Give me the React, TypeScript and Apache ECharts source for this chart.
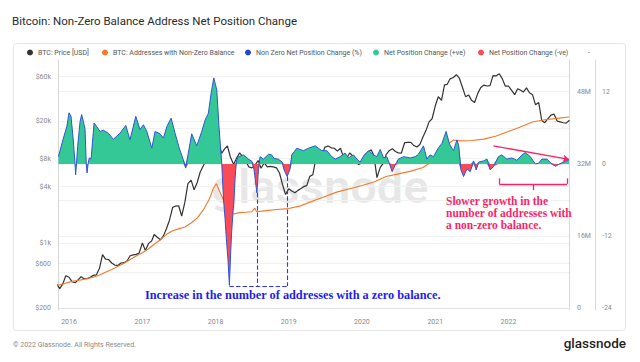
import React, { useEffect, useRef } from 'react';
import * as echarts from 'echarts';

const TITLE = 'Bitcoin: Non-Zero Balance Address Net Position Change';
const legendNames = [
  'BTC: Price [USD]',
  'BTC: Addresses with Non-Zero Balance',
  'Non Zero Net Position Change (%)',
  'Net Position Change (+ve)',
  'Net Position Change (-ve)',
];
const legendDotX = [31, 106, 249, 377, 482];

// BTC price, semi-monthly (1st and 16th) starting 2015-11-01
const priceUSD = [
  360, 325, 365, 445,
  430, 385, 375, 405, 435, 415, 415, 430, 450, 455, 535, 750, 670, 665, 610, 580, 575, 610, 615, 640, 730, 745, 755, 780,
  1000, 830, 990, 1050, 1230, 1150, 1080, 1190, 1420, 1750, 2400, 2480, 2500, 1940, 2730, 4300, 4700, 3700, 4400, 5700, 6700, 7800, 10900, 19000,
  13400, 11300, 9100, 10200, 10900, 8300, 6900, 8100, 9200, 8400, 7500, 6500, 6350, 6750, 7600, 6300, 7200, 6500, 6600, 6500, 6350, 5600, 4200, 3300,
  3800, 3600, 3450, 3650, 3800, 4000, 4100, 5150, 5350, 7900, 8550, 8900, 10600, 10900, 10400, 10300, 9600, 10300, 8300, 8000, 9150, 8500, 7400, 6900,
  7200, 8800, 9400, 9900, 8600, 5000, 6400, 7100, 8800, 9700, 10200, 9500, 9200, 9150, 11800, 11900, 11900, 11000, 10600, 11300, 13700, 16000, 19700, 21300,
  29300, 36600, 33500, 49100, 49600, 56900, 58800, 63000, 57800, 46500, 36700, 38300, 33500, 31800, 39800, 46000, 48800, 47700, 48200, 61500, 61300, 64500, 57200, 47600,
  47700, 43100, 38500, 44500, 43200, 41100, 45500, 40400, 38500, 30000, 31700, 20400, 19300, 21200, 23300, 23900, 20100, 19700, 19300, 19100, 20500,
];

// Addresses with non-zero balance (millions)
const addrDates = [
  '2015-11-01', '2015-12-01', '2016-01-01', '2016-02-01', '2016-03-01', '2016-04-01', '2016-05-01', '2016-06-01',
  '2016-07-01', '2016-08-01', '2016-09-01', '2016-10-01', '2016-11-01', '2016-12-01', '2017-01-01', '2017-02-01',
  '2017-03-01', '2017-04-01', '2017-05-01', '2017-06-01', '2017-07-01', '2017-08-01', '2017-09-01', '2017-10-01',
  '2017-11-01', '2017-12-01', '2017-12-20', '2018-01-05', '2018-01-20', '2018-02-05', '2018-02-20', '2018-03-10',
  '2018-04-01', '2018-05-01', '2018-06-01', '2018-07-01', '2018-07-15', '2018-07-25', '2018-09-01', '2018-11-01',
  '2019-01-01', '2019-03-01', '2019-05-01', '2019-07-01', '2019-09-01', '2019-11-01', '2020-01-01', '2020-03-01',
  '2020-05-01', '2020-07-01', '2020-09-01', '2020-11-01', '2021-01-01', '2021-02-01', '2021-03-01', '2021-04-01',
  '2021-05-01', '2021-07-01', '2021-09-01', '2021-11-01', '2022-01-01', '2022-03-01', '2022-05-01', '2022-07-01',
  '2022-09-01', '2022-10-30',
];
const addrMillions = [
  5.0, 5.4, 5.8, 6.1, 6.3, 6.6, 6.9, 7.4,
  8.0, 8.6, 9.3, 10.0, 10.8, 11.6, 12.3, 13.2,
  14.2, 15.2, 16.4, 17.2, 17.6, 18.0, 18.9, 20.0,
  21.8, 24.2, 26.5, 27.6, 26.0, 24.5, 22.4, 21.0,
  20.9, 21.2, 21.3, 21.4, 22.2, 21.4, 21.6, 21.9,
  22.1, 22.7, 23.8, 24.8, 25.8, 26.5, 27.2, 28.0,
  29.2, 29.8, 30.4, 31.2, 33.0, 34.8, 36.2, 37.3,
  37.1, 37.2, 37.5, 38.2, 39.2, 40.2, 41.3, 41.8,
  42.1, 42.4,
];

// Non-zero net position change (%)
const npcDates = [
  '2015-11-09', '2015-12-04', '2015-12-21', '2016-01-01', '2016-01-11', '2016-01-22', '2016-01-31', '2016-02-03', '2016-02-07', '2016-02-13',
  '2016-02-25', '2016-03-04', '2016-03-13', '2016-03-21', '2016-03-27', '2016-03-31', '2016-04-05', '2016-04-11', '2016-04-20', '2016-05-05',
  '2016-05-18', '2016-06-04', '2016-06-20', '2016-07-15', '2016-08-09', '2016-09-11', '2016-10-10', '2016-10-31', '2016-11-29', '2016-12-20',
  '2017-01-06', '2017-01-23', '2017-02-17', '2017-03-05', '2017-03-30', '2017-04-16', '2017-05-03', '2017-05-24', '2017-06-13', '2017-07-04',
  '2017-07-24', '2017-08-05', '2017-08-18', '2017-09-04', '2017-09-29', '2017-10-24', '2017-11-10', '2017-11-26', '2017-12-10', '2017-12-23',
  '2018-01-07', '2018-01-18', '2018-02-01', '2018-02-05', '2018-02-10', '2018-02-17', '2018-02-25', '2018-03-04', '2018-03-11', '2018-03-17',
  '2018-03-22', '2018-03-29', '2018-04-03', '2018-04-08', '2018-04-15', '2018-04-25', '2018-05-20', '2018-06-14', '2018-07-02', '2018-07-12',
  '2018-07-26', '2018-08-03', '2018-08-11', '2018-08-28', '2018-09-22', '2018-10-08', '2018-10-20', '2018-11-10', '2018-11-29', '2018-12-09',
  '2018-12-24', '2019-01-08', '2019-01-16', '2019-02-10', '2019-03-15', '2019-04-09', '2019-05-13', '2019-05-29', '2019-06-15', '2019-07-10',
  '2019-08-04', '2019-08-21', '2019-09-14', '2019-10-09', '2019-10-26', '2019-11-20', '2019-12-07', '2019-12-23', '2020-01-09', '2020-02-03',
  '2020-02-28', '2020-03-15', '2020-04-01', '2020-04-18', '2020-05-04', '2020-05-16', '2020-05-31', '2020-06-15', '2020-07-01', '2020-07-26',
  '2020-08-29', '2020-09-23', '2020-10-09', '2020-11-03', '2020-11-20', '2020-12-06', '2020-12-23', '2021-01-17', '2021-02-03', '2021-02-24',
  '2021-03-13', '2021-03-25', '2021-04-02', '2021-04-19', '2021-04-28', '2021-05-09', '2021-05-22', '2021-06-08', '2021-06-24', '2021-07-11',
  '2021-07-24', '2021-08-05', '2021-08-30', '2021-09-16', '2021-10-02', '2021-10-19', '2021-11-12', '2021-11-29', '2021-12-24', '2022-01-18',
  '2022-02-12', '2022-03-10', '2022-03-26', '2022-04-20', '2022-05-15', '2022-05-31', '2022-06-17', '2022-07-12', '2022-07-29', '2022-08-23',
  '2022-09-08', '2022-10-03', '2022-10-30',
];
const npcPercent = [
  1.2, 4.3, 6.2, 8.5, 7.9, 4.0, 0, -1.8, 0, 2.9,
  7.0, 8.2, 7.0, 5.7, 0, -1.5, 0, 1.0, 0.8, 6.8,
  6.2, 5.4, 5.6, 5.1, 4.1, 5.1, 6.4, 4.0, 7.9, 5.7,
  6.5, 5.4, 2.6, 5.4, 5.0, 4.3, 6.2, 7.6, 5.1, 2.6,
  0.7, -0.7, 1.8, 5.0, 3.0, 5.4, 7.3, 8.4, 11.8, 14.3,
  12.3, 6.2, 0, -3, -6, -9, -13, -16, -20.2, -15,
  -11.5, -8, -6, -2.5, 0.5, 1.2, 1.5, 0.8, 0.4, -1.0,
  -4.8, -1.0, 1.2, 0.8, 1.6, 1.5, 0.9, 0.8, 0.3, -1.0,
  -2.1, -0.8, 1.5, 2.6, 2.2, 2.6, 3.0, 2.6, 2.2, 2.2,
  1.2, 0.8, 1.2, 1.8, 1.0, 1.5, 0.8, 0.3, 1.3, 2.2,
  1.5, 1.2, 2.4, 1.0, 1.2, 0.2, -1.3, -0.2, 0.8, 1.2,
  1.0, 1.2, 1.6, 3.0, 0.8, 1.5, 1.2, 2.7, 3.4, 5.4,
  3.3, 2.6, 2.2, 4.0, 3.0, -1.0, -2.1, -0.8, -1.3, 0.5,
  -1.0, 0.3, 0.5, 0.8, -1.0, -0.4, 1.2, 1.5, 0.8, 1.0,
  0.6, 1.5, 1.9, 1.2, 0.0, 0.1, 0.8, 0.8, 0.2, -0.4,
  -0.1, 0.3, 0.7,
];

// Axis ticks
const priceTicks = [200, 600, 1000, 4000, 8000, 20000, 60000];
const priceTickLabels = ['$200', '$600', '$1k', '$4k', '$8k', '$20k', '$60k'];
const addrTicks = [0, 16, 32, 48];
const addrGridTicks = [0, 8, 16, 24, 32, 40, 48];
const pctTicks = [-24, -12, 0, 12];
const yearTicks = [2016, 2017, 2018, 2019, 2020, 2021, 2022];

// Annotation anchors (data coordinates)
const zeroAnnoDates = ['2018-03-11', '2018-07-29', '2018-12-25'];
const zeroAnnoBase = -20.3;
const zeroAnnoTops = [-4.8, -2.1];
const slowArrowDates = ['2021-10-18', '2022-10-30'];
const slowArrowVals = [3.0, 0.75];
const slowBracketDates = ['2021-11-16', '2022-05-03', '2022-10-20'];
const slowBracketVals = [-3.33, -2.4, -4.35];

function ts(s: string) {
  const [y, m, d] = s.split('-').map(Number);
  return new Date(y, m - 1, d).getTime();
}
function priceDate(i: number) {
  const mi = 10 + Math.floor(i / 2);
  return new Date(2015 + Math.floor(mi / 12), mi % 12, i % 2 ? 16 : 1).getTime();
}

export default function App() {
  const ref = useRef<HTMLDivElement>(null);
  useEffect(() => {
    if (!ref.current) return;
    const chart = echarts.init(ref.current, null, { renderer: 'svg' });
    const n = Math.min(npcDates.length, npcPercent.length);
    const npc = npcDates.slice(0, n).map((d, i) => [ts(d), npcPercent[i]]);
    const pos = npc.map(([t, v]) => [t, Math.max(v as number, 0)]);
    const neg = npc.map(([t, v]) => [t, Math.min(v as number, 0)]);
    const price = priceUSD.map((v, i) => [priceDate(i), Math.log10(v)]);
    const addr = addrDates.map((d, i) => [ts(d), addrMillions[i]]);
    const logTicks = priceTicks.map((v) => Math.log10(v));
    const yearTs = yearTicks.map((y) => new Date(y, 0, 1).getTime());

    const blueDash = { color: '#2a36ff', type: 'dashed', width: 1.1, opacity: 1 };
    const pink = { color: '#ff1f68', width: 1.3, type: 'solid', opacity: 1 };
    const fontFamily = 'Roboto';
    const seg = (a: number[], b: number[], style: any, endSymbol?: string) => [
      { coord: a, lineStyle: style, itemStyle: { color: style.color } },
      endSymbol
        ? { coord: b, lineStyle: style, itemStyle: { color: style.color }, symbol: endSymbol, symbolSize: 6 }
        : { coord: b, lineStyle: style, itemStyle: { color: style.color } },
    ];

    const option: any = {
      animation: false,
      backgroundColor: '#ffffff',
      textStyle: { fontFamily },
      title: {
        text: TITLE,
        left: 12,
        top: 15,
        padding: 0,
        textStyle: { fontSize: 11.5, fontWeight: 'normal', color: '#2b2b2b', fontFamily },
      },
      legend: legendNames.map((name, i) => ({
        data: [name],
        left: legendDotX[i] - 4,
        top: 49,
        padding: 0,
        itemWidth: 6,
        itemHeight: 6,
        icon: 'circle',
        selectedMode: false,
        textStyle: { fontSize: 7, color: '#555', fontFamily },
      })),
      grid: { left: 58, right: 71, top: 60, bottom: 52 },
      xAxis: {
        type: 'value',
        min: ts('2015-11-07'),
        max: ts('2022-10-30'),
        axisLine: { show: true, lineStyle: { color: '#e2e2e2' } },
        axisTick: { show: false, customValues: yearTs },
        splitLine: { show: false },
        axisLabel: {
          customValues: yearTs,
          formatter: (v: number) => String(new Date(v).getFullYear()),
          color: '#8a8a8a',
          fontSize: 7,
          fontFamily,
          margin: 8,
        },
      },
      yAxis: [
        {
          type: 'value',
          position: 'left',
          min: 2.2828,
          max: 4.9566,
          axisLine: { show: true, lineStyle: { color: '#d6d6d6' } },
          axisTick: { show: false, customValues: logTicks },
          splitLine: { show: true, lineStyle: { color: '#f1f1f1' } },
          axisLabel: {
            customValues: logTicks,
            formatter: (v: number) => {
              const i = logTicks.findIndex((t) => Math.abs(t - v) < 1e-6);
              return i >= 0 ? priceTickLabels[i] : '';
            },
            color: '#8a8a8a',
            fontSize: 7,
            fontFamily,
            margin: 7,
          },
        },
        {
          type: 'value',
          position: 'right',
          min: -0.377,
          max: 55.03,
          axisLine: { show: true, lineStyle: { color: '#f8cfb4' } },
          axisTick: { show: false, customValues: addrGridTicks },
          splitLine: { show: true, lineStyle: { color: '#f1f1f1' } },
          axisLabel: {
            customValues: addrTicks,
            formatter: (v: number) => (v === 0 ? '0' : v + 'M'),
            color: '#8a8a8a',
            fontSize: 7,
            fontFamily,
            margin: 8,
          },
        },
        {
          type: 'value',
          position: 'right',
          offset: 26,
          min: -24.283,
          max: 17.27,
          axisLine: { show: true, lineStyle: { color: '#bfe9da' } },
          axisTick: { show: false, customValues: pctTicks },
          splitLine: { show: false },
          axisLabel: {
            customValues: pctTicks,
            formatter: (v: number) => String(v),
            color: '#8a8a8a',
            fontSize: 7,
            fontFamily,
            margin: 7,
          },
        },
      ],
      series: [
        {
          name: legendNames[0],
          type: 'line',
          yAxisIndex: 0,
          data: price,
          showSymbol: false,
          color: '#333333',
          lineStyle: { width: 1.2, color: '#333333' },
          z: 2,
        },
        {
          name: legendNames[1],
          type: 'line',
          yAxisIndex: 1,
          data: addr,
          showSymbol: false,
          color: '#f3782a',
          lineStyle: { width: 1.1, color: '#f3782a' },
          z: 2,
        },
        {
          name: legendNames[3],
          type: 'line',
          yAxisIndex: 2,
          data: pos,
          showSymbol: false,
          color: '#34c896',
          lineStyle: { width: 0 },
          areaStyle: { color: '#34c896', opacity: 1 },
          z: 3,
        },
        {
          name: legendNames[4],
          type: 'line',
          yAxisIndex: 2,
          data: neg,
          showSymbol: false,
          color: '#fb4b57',
          lineStyle: { width: 0 },
          areaStyle: { color: '#fb4b57', opacity: 1 },
          z: 3,
        },
        {
          name: legendNames[2],
          type: 'line',
          yAxisIndex: 2,
          data: npc,
          showSymbol: false,
          color: '#2446d6',
          lineStyle: { width: 1, color: '#2f55d8' },
          z: 4,
          markLine: {
            silent: true,
            symbol: ['none', 'none'],
            label: { show: false },
            animation: false,
            data: [
              seg([ts(zeroAnnoDates[0]), zeroAnnoBase], [ts(zeroAnnoDates[2]), zeroAnnoBase], blueDash),
              seg([ts(zeroAnnoDates[1]), zeroAnnoTops[0]], [ts(zeroAnnoDates[1]), zeroAnnoBase], blueDash),
              seg([ts(zeroAnnoDates[2]), zeroAnnoTops[1]], [ts(zeroAnnoDates[2]), zeroAnnoBase], blueDash),
              seg([ts(slowArrowDates[0]), slowArrowVals[0]], [ts(slowArrowDates[1]), slowArrowVals[1]], pink, 'arrow'),
              seg([ts(slowBracketDates[0]), slowBracketVals[0]], [ts(slowBracketDates[2]), slowBracketVals[0]], pink),
              seg([ts(slowBracketDates[0]), slowBracketVals[1]], [ts(slowBracketDates[0]), slowBracketVals[0]], pink),
              seg([ts(slowBracketDates[2]), slowBracketVals[1]], [ts(slowBracketDates[2]), slowBracketVals[0]], pink),
              seg([ts(slowBracketDates[1]), slowBracketVals[0]], [ts(slowBracketDates[1]), slowBracketVals[2]], pink),
            ],
          },
        },
      ],
      graphic: [
        {
          type: 'rect',
          z: -10,
          silent: true,
          shape: { x: 13.5, y: 43.5, width: 612, height: 287, r: 3 },
          style: { fill: 'none', stroke: '#e6e6e6', lineWidth: 1 },
        },
        {
          type: 'text',
          z: 0,
          silent: true,
          style: {
            text: 'glassnode',
            x: 320,
            y: 186,
            align: 'center',
            verticalAlign: 'middle',
            fontSize: 47,
            fontWeight: 'bold',
            fontFamily,
            fill: 'rgba(0,0,0,0.09)',
          },
        },
        {
          type: 'text',
          style: { text: '-', x: 588, y: 53, verticalAlign: 'middle', fontSize: 7, fontFamily, fill: '#555' },
        },
        {
          type: 'text',
          z: 100,
          style: {
            text: 'Increase in the number of addresses with a zero balance.',
            x: 145,
            y: 295,
            verticalAlign: 'middle',
            fontSize: 12.3,
            fontWeight: 'bold',
            fontFamily: 'Liberation Serif',
            fill: '#1d1df2',
          },
        },
        {
          type: 'text',
          z: 100,
          style: {
            text: 'Slower growth in the\nnumber of addresses with\na non-zero balance.',
            x: 446,
            y: 195,
            fontSize: 11.5,
            lineHeight: 11.8,
            fontWeight: 'bold',
            fontFamily: 'Liberation Serif',
            fill: '#ff1f68',
          },
        },
        {
          type: 'text',
          style: {
            text: '© 2022 Glassnode. All Rights Reserved.',
            x: 13,
            y: 345,
            verticalAlign: 'middle',
            fontSize: 7,
            fontFamily,
            fill: '#8a8a8a',
          },
        },
        {
          type: 'text',
          style: {
            text: 'glassnode',
            x: 626,
            y: 343,
            align: 'right',
            verticalAlign: 'middle',
            fontSize: 13.5,
            fontWeight: 500,
            fontFamily,
            fill: '#1f1f1f',
          },
        },
      ],
    };
    chart.setOption(option);
    return () => chart.dispose();
  }, []);
  return (
    <div
      ref={ref}
      style={{ position: 'fixed', left: 0, top: 0, width: 640, height: 362, background: '#fff' }}
    />
  );
}
